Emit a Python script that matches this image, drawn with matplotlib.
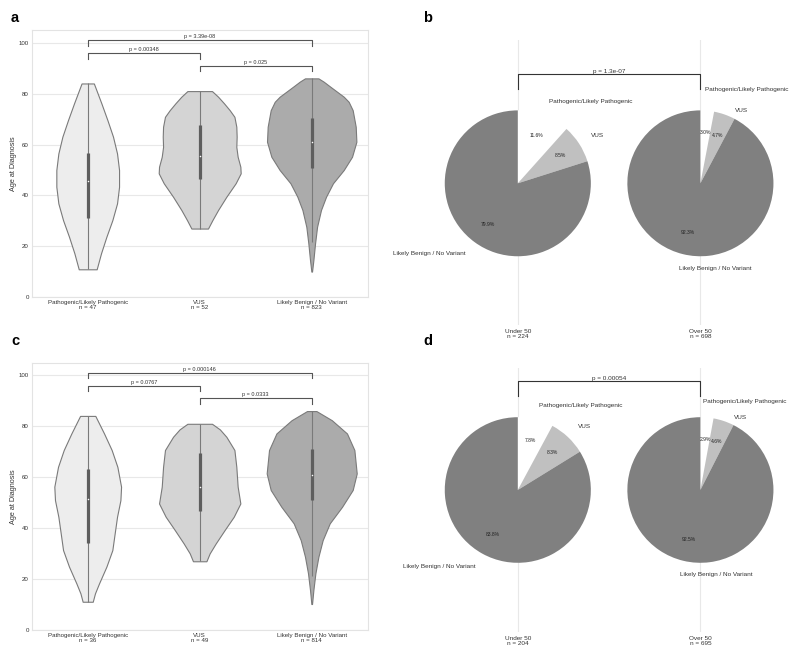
import numpy as np
import matplotlib
matplotlib.use("Agg")
import matplotlib.pyplot as plt

plt.rcParams['font.family'] = ['Liberation Sans', 'DejaVu Sans']

# ---------------- data ----------------
groups = ["Pathogenic/Likely Pathogenic", "VUS", "Likely Benign / No Variant"]
n_a = [47, 52, 823]
n_c = [36, 49, 814]

# violin outlines: (age, half-width in category units), top -> bottom
a1_age = [84.0, 76.2, 69.6, 63.1, 56.5, 50.0, 43.4, 36.9, 30.3, 23.8, 17.3, 11.0]
a1_hw = [0.055, 0.122, 0.176, 0.226, 0.262, 0.28, 0.28, 0.262, 0.22, 0.167, 0.119, 0.080]
a2_age = [81.0, 78.8, 76.2, 73.5, 70.9, 67.0, 63.1, 59.1, 55.2, 51.3, 48.7, 44.8, 39.5, 34.3, 30.3, 27.0]
a2_hw = [0.110, 0.164, 0.217, 0.268, 0.31, 0.327, 0.33, 0.327, 0.339, 0.363, 0.366, 0.321, 0.238, 0.164, 0.113, 0.074]
a3_age = [86.0, 84.7, 82.7, 78.8, 76.8, 73.5, 67.0, 61.1, 55.2, 50.0, 44.8, 39.5, 34.3, 27.7, 21.2, 14.6, 10.1]
a3_hw = [0.06, 0.107, 0.167, 0.286, 0.33, 0.366, 0.393, 0.399, 0.36, 0.286, 0.19, 0.128, 0.083, 0.048, 0.03, 0.015, 0.003]

c1_age = [84.1, 77.2, 70.7, 64.1, 56.3, 51.0, 44.5, 38.0, 31.4, 24.9, 18.3, 14.4, 11.1]
c1_hw = [0.068, 0.146, 0.214, 0.265, 0.298, 0.292, 0.262, 0.241, 0.22, 0.167, 0.101, 0.065, 0.045]
c2_age = [81.0, 78.8, 75.9, 70.7, 64.1, 56.3, 49.7, 44.5, 39.3, 34.0, 30.1, 27.0]
c2_hw = [0.110, 0.18, 0.238, 0.31, 0.327, 0.339, 0.363, 0.304, 0.223, 0.143, 0.089, 0.06]
c3_age = [86.0, 82.4, 77.2, 70.7, 61.5, 55.0, 48.4, 41.9, 35.3, 28.8, 22.3, 15.7, 10.2]
c3_hw = [0.042, 0.18, 0.315, 0.381, 0.402, 0.366, 0.271, 0.161, 0.098, 0.06, 0.033, 0.015, 0.003]

# box stats: q1, median, q3, whisker low, whisker high
a_q1 = [31.0, 46.4, 50.6]
a_med = [45.7, 55.5, 61.1]
a_q3 = [56.8, 67.6, 70.5]
a_wlo = [11.0, 27.0, 21.8]
a_whi = [84.0, 81.0, 86.0]
c_q1 = [34.3, 46.8, 51.0]
c_med = [51.6, 56.0, 60.9]
c_q3 = [63.1, 69.4, 71.1]
c_wlo = [11.1, 27.0, 21.3]
c_whi = [84.1, 81.0, 86.0]

a_pairs = [(0, 2, "p = 3.39e-08"), (0, 1, "p = 0.00348"), (1, 2, "p = 0.025")]
c_pairs = [(0, 2, "p = 0.000146"), (0, 1, "p = 0.0767"), (1, 2, "p = 0.0333")]

pie_labels = ["Pathogenic/Likely Pathogenic", "VUS", "Likely Benign / No Variant"]
age_groups = ["Under 50", "Over 50"]
b_counts = [[26, 19, 179], [21, 33, 644]]
b_n = [224, 698]
b_p = "p = 1.3e-07"
d_counts = [[16, 17, 171], [20, 32, 643]]
d_n = [204, 695]
d_p = "p = 0.00054"

# ---------------- style ----------------
violin_colors = ["#ededed", "#d4d4d4", "#ababab"]
edge_col = "#7a7a7a"
box_col = "#5e5e5e"
grid_col = "#e8e8e8"
pie_colors = ["#ffffff", "#c0c0c0", "#808080"]

W, H = 800, 659
fig = plt.figure(figsize=(8, 6.59), dpi=100)


def px_axes(left, top, right, bottom):
    return fig.add_axes([left / W, 1 - bottom / H, (right - left) / W, (bottom - top) / H])


def violin_panel(ax, profiles, q1, med, q3, wlo, whi, ns, pairs):
    ax.set_facecolor("white")
    for i, (ages, hw) in enumerate(profiles):
        ages = np.asarray(ages)
        hw = np.asarray(hw)
        ax.fill_betweenx(ages, i - hw, i + hw, facecolor=violin_colors[i],
                         edgecolor=edge_col, linewidth=0.8, zorder=2)
        ax.plot([i, i], [wlo[i], whi[i]], color=edge_col, lw=0.8, zorder=3,
                solid_capstyle='butt')
        ax.plot([i, i], [q1[i], q3[i]], color=box_col, lw=2.3, zorder=4,
                solid_capstyle='butt')
        ax.scatter([i], [med[i]], s=1.2, color="white", zorder=5, linewidths=0)
    ax.set_xlim(-0.5, 2.5)
    ax.set_ylim(0, 105)
    ax.set_yticks([0, 20, 40, 60, 80, 100])
    ax.set_xticks([0, 1, 2])
    ax.set_xticklabels([f"{g}\nn = {n}" for g, n in zip(groups, ns)],
                       fontsize=4.4, linespacing=0.95, color="#333333")
    ax.tick_params(axis='y', labelsize=4.4, length=0, pad=2, colors="#333333")
    ax.tick_params(axis='x', length=0, pad=2)
    ax.grid(axis='y', color=grid_col, lw=0.8, zorder=0)
    ax.set_axisbelow(True)
    for s in ax.spines.values():
        s.set_color("#e3e3e3")
        s.set_linewidth(0.8)
    ax.set_ylabel("Age at Diagnosis", fontsize=5.2, color="#333333", labelpad=1.5)
    levels = {(0, 2): 101.0, (0, 1): 96.0, (1, 2): 91.0}
    for (x1, x2, txt) in pairs:
        y = levels[(x1, x2)]
        ax.plot([x1, x1, x2, x2], [y - 2.2, y, y, y - 2.2], color="#555555",
                lw=0.8, zorder=6, clip_on=False)
        ax.text((x1 + x2) / 2, y + 0.4, txt, ha='center', va='bottom',
                fontsize=4.0, color="#333333")


def pie_panel(ax, counts, ns, ptxt, ylim, moved):
    for i, c in enumerate(counts):
        wedges, texts, autotexts = ax.pie(
            c, labels=pie_labels, colors=pie_colors, startangle=90,
            counterclock=False, radius=0.4, center=(i, 0), frame=True,
            labeldistance=1.2, pctdistance=0.7, autopct='%1.1f%%',
            textprops=dict(fontsize=4.6, color="#333333"),
            wedgeprops=dict(linewidth=0))
        for w in wedges:
            w.set_zorder(2)
        for t in autotexts:
            t.set_fontsize(3.6)
            t.set_color("#222222")
        if i == 1:
            for k, (dx, dy) in moved.items():
                texts[k].set_position((i + dx, dy))
                texts[k].set_horizontalalignment('left')
    ax.set_aspect('auto')
    ax.set_xlim(-0.5, 1.5)
    ax.set_ylim(*ylim)
    ax.set_xticks([0, 1])
    ax.set_xticklabels([f"{g}\nn = {n}" for g, n in zip(age_groups, ns)],
                       fontsize=4.6, linespacing=0.95, color="#333333")
    ax.set_yticks([])
    ax.tick_params(axis='x', length=0, pad=3)
    ax.grid(axis='x', color=grid_col, lw=0.8, zorder=0)
    ax.set_axisbelow(True)
    for s in ax.spines.values():
        s.set_visible(False)
    ax.plot([0, 0, 1, 1], [0.517, 0.601, 0.601, 0.517], color="#333333", lw=0.8, zorder=6)
    ax.text(0.5, 0.598, ptxt, ha='center', va='bottom', fontsize=4.6, color="#333333")


ax_a = px_axes(31.7, 30.0, 367.7, 297.3)
violin_panel(ax_a, [(a1_age, a1_hw), (a2_age, a2_hw), (a3_age, a3_hw)],
             a_q1, a_med, a_q3, a_wlo, a_whi, n_a, a_pairs)

ax_c = px_axes(31.7, 362.7, 367.7, 630.0)
violin_panel(ax_c, [(c1_age, c1_hw), (c2_age, c2_hw), (c3_age, c3_hw)],
             c_q1, c_med, c_q3, c_wlo, c_whi, n_c, c_pairs)

ax_b = px_axes(426.5, 40.0, 791.7, 325.0)
pie_panel(ax_b, b_counts, b_n, b_p, (-0.777, 0.786),
          {0: (0.027, 0.516), 1: (0.187, 0.399)})

ax_d = px_axes(426.5, 367.7, 791.7, 631.7)
pie_panel(ax_d, d_counts, d_n, d_p, (-0.7786, 0.672),
          {0: (0.016, 0.489), 1: (0.185, 0.40)})

# panel letters
for lab, x, yb in [("a", 10.7, 22), ("b", 423, 22), ("c", 11.7, 345), ("d", 423.3, 345)]:
    fig.text(x / W, 1 - yb / H, lab, fontsize=10.5, fontweight='bold',
             ha='left', va='baseline', color="black")

fig.savefig("out.png", dpi=100, facecolor="white")
